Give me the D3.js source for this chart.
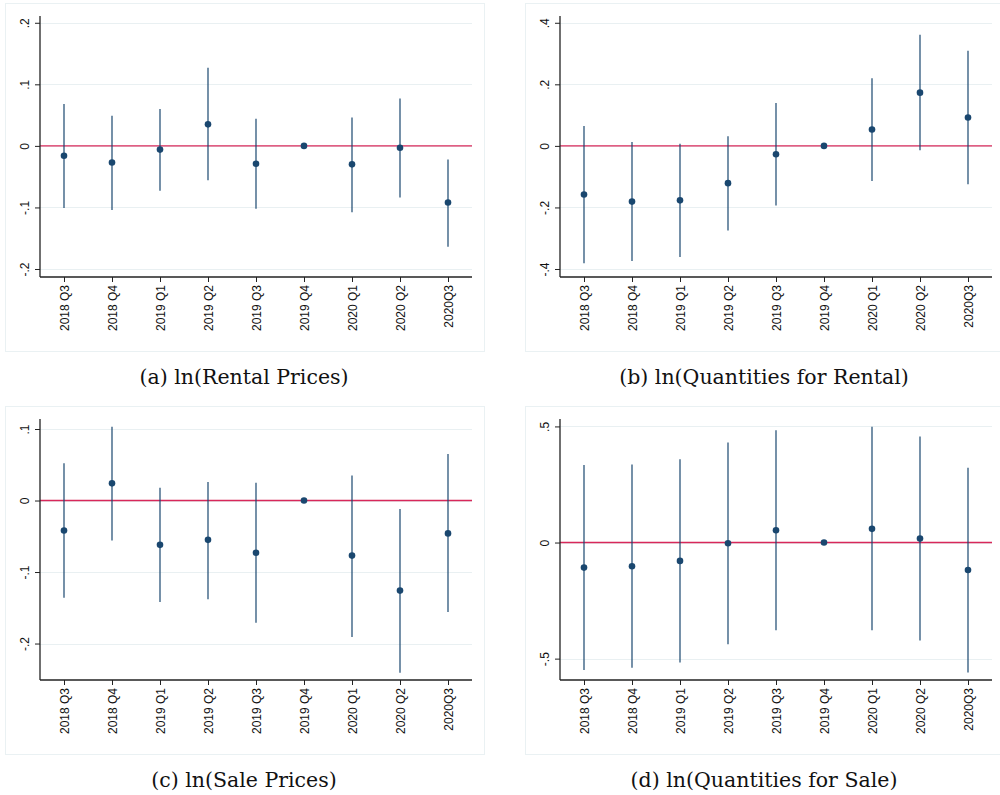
<!DOCTYPE html>
<html>
<head>
<meta charset="utf-8">
<script src="https://cdn.jsdelivr.net/npm/d3@7"></script>
<style>
  html, body { margin: 0; padding: 0; background: #fff; }
  svg { display: block; }
</style>
</head>
<body>
<svg id="chart" width="1000" height="795"></svg>
<script>
// ---- Data ----
const quarters = ["2018 Q3","2018 Q4","2019 Q1","2019 Q2","2019 Q3","2019 Q4","2020 Q1","2020 Q2","2020Q3"];

const rentPriceEst   = [-0.016, -0.027, -0.006, 0.035, -0.029, 0, -0.030, -0.003, -0.092];
const rentPriceLo    = [-0.101, -0.104, -0.073, -0.056, -0.102, null, -0.108, -0.084, -0.164];
const rentPriceHi    = [0.068, 0.049, 0.060, 0.127, 0.044, null, 0.046, 0.077, -0.022];

const rentQtyEst     = [-0.158, -0.181, -0.177, -0.121, -0.027, 0, 0.053, 0.173, 0.092];
const rentQtyLo      = [-0.381, -0.374, -0.361, -0.275, -0.194, null, -0.114, -0.014, -0.125];
const rentQtyHi      = [0.065, 0.013, 0.007, 0.031, 0.139, null, 0.220, 0.361, 0.309];

const salePriceEst   = [-0.042, 0.024, -0.062, -0.055, -0.073, 0, -0.077, -0.126, -0.046];
const salePriceLo    = [-0.136, -0.056, -0.142, -0.138, -0.171, null, -0.191, -0.241, -0.156];
const salePriceHi    = [0.052, 0.103, 0.018, 0.026, 0.025, null, 0.035, -0.012, 0.065];

const saleQtyEst     = [-0.108, -0.102, -0.079, -0.003, 0.053, 0, 0.059, 0.017, -0.118];
const saleQtyLo      = [-0.549, -0.539, -0.517, -0.438, -0.378, null, -0.378, -0.422, -0.560];
const saleQtyHi      = [0.334, 0.336, 0.359, 0.431, 0.484, null, 0.499, 0.457, 0.322];

const ticksA = [-0.2, -0.1, 0, 0.1, 0.2];
const ticksB = [-0.4, -0.2, 0, 0.2, 0.4];
const ticksC = [-0.2, -0.1, 0, 0.1];
const ticksD = [-0.5, 0, 0.5];

const captions = ["(a) ln(Rental Prices)", "(b) ln(Quantities for Rental)", "(c) ln(Sale Prices)", "(d) ln(Quantities for Sale)"];

const panels = [
  {ox: 0,   oy: 0,   est: rentPriceEst, lo: rentPriceLo, hi: rentPriceHi, domain: [-0.213, 0.211], ticks: ticksA, caption: captions[0]},
  {ox: 520, oy: 0,   est: rentQtyEst,   lo: rentQtyLo,   hi: rentQtyHi,   domain: [-0.426, 0.422], ticks: ticksB, caption: captions[1]},
  {ox: 0,   oy: 403, est: salePriceEst, lo: salePriceLo, hi: salePriceHi, domain: [-0.251, 0.114], ticks: ticksC, caption: captions[2]},
  {ox: 520, oy: 403, est: saleQtyEst,   lo: saleQtyLo,   hi: saleQtyHi,   domain: [-0.592, 0.532], ticks: ticksD, caption: captions[3]}
];

const fmt = v => {
  if (v === 0) return "0";
  let s = String(+v.toFixed(2));
  return s.replace(/^(-?)0\./, "$1.");
};

const svg = d3.select("#chart");
const navy = "#1a476f";
const red = "#d8285a";
const grid = "#e9f0f2";

const plotL = 40, plotR = 472, plotT = 16, plotB = 277;

panels.forEach(p => {
  const g = svg.append("g").attr("transform", `translate(${p.ox},${p.oy})`);

  // outer frame
  g.append("rect")
    .attr("x", 5.5).attr("y", 3.5).attr("width", 479).attr("height", 348)
    .attr("fill", "none").attr("stroke", "#eaf1f3").attr("stroke-width", 1);

  const x = d3.scalePoint().domain(quarters).range([plotL, plotR]).padding(0.5);
  const y = d3.scaleLinear().domain(p.domain).range([plotB, plotT]);

  // gridlines
  g.append("g").selectAll("line").data(p.ticks).join("line")
    .attr("x1", plotL).attr("x2", plotR)
    .attr("y1", d => Math.round(y(d)) + 0.5).attr("y2", d => Math.round(y(d)) + 0.5)
    .attr("stroke", grid).attr("stroke-width", 1);

  // zero reference line
  g.append("line")
    .attr("x1", plotL).attr("x2", plotR)
    .attr("y1", y(0)).attr("y2", y(0))
    .attr("stroke", red).attr("stroke-width", 1.4);

  // y axis
  const yAxis = d3.axisLeft(y).tickValues(p.ticks).tickFormat(fmt).tickSize(5).tickPadding(4);
  const ya = g.append("g").attr("transform", `translate(${plotL},0)`).call(yAxis);
  ya.select(".domain").attr("stroke", "#222").attr("stroke-width", 1.3).attr("d", `M0,${plotB}V${plotT}`);
  ya.selectAll(".tick line").attr("stroke", "#222");
  ya.selectAll(".tick text")
    .attr("font-family", "Liberation Sans, Arial, sans-serif").attr("font-size", 12).attr("fill", "#111")
    .attr("x", null).attr("dy", null)
    .attr("text-anchor", "middle")
    .attr("transform", "translate(-11,0) rotate(-90)");

  // x axis
  const xAxis = d3.axisBottom(x).tickSize(5).tickPadding(4);
  const xa = g.append("g").attr("transform", `translate(0,${plotB})`).call(xAxis);
  xa.select(".domain").attr("stroke", "#222").attr("stroke-width", 1.3).attr("d", `M${plotL},0H${plotR}`);
  xa.selectAll(".tick line").attr("stroke", "#222");
  xa.selectAll(".tick text")
    .attr("font-family", "Liberation Sans, Arial, sans-serif").attr("font-size", 12).attr("fill", "#111")
    .attr("y", null).attr("dy", null)
    .attr("text-anchor", "end")
    .attr("transform", "translate(4,8) rotate(-90)");

  // CI lines
  const ci = quarters.map((q, i) => ({q, lo: p.lo[i], hi: p.hi[i]})).filter(d => d.lo !== null);
  g.append("g").selectAll("line").data(ci).join("line")
    .attr("x1", d => x(d.q)).attr("x2", d => x(d.q))
    .attr("y1", d => y(d.lo)).attr("y2", d => y(d.hi))
    .attr("stroke", navy).attr("stroke-width", 1.2);

  // points
  g.append("g").selectAll("circle").data(quarters.map((q, i) => ({q, v: p.est[i]}))).join("circle")
    .attr("cx", d => x(d.q)).attr("cy", d => y(d.v)).attr("r", 3.3)
    .attr("fill", navy);

  // caption
  g.append("text")
    .attr("x", 244).attr("y", 384)
    .attr("text-anchor", "middle")
    .attr("font-family", "DejaVu Serif, serif")
    .attr("font-size", 20.5).attr("fill", "#111")
    .text(p.caption);
});
</script>
</body>
</html>
